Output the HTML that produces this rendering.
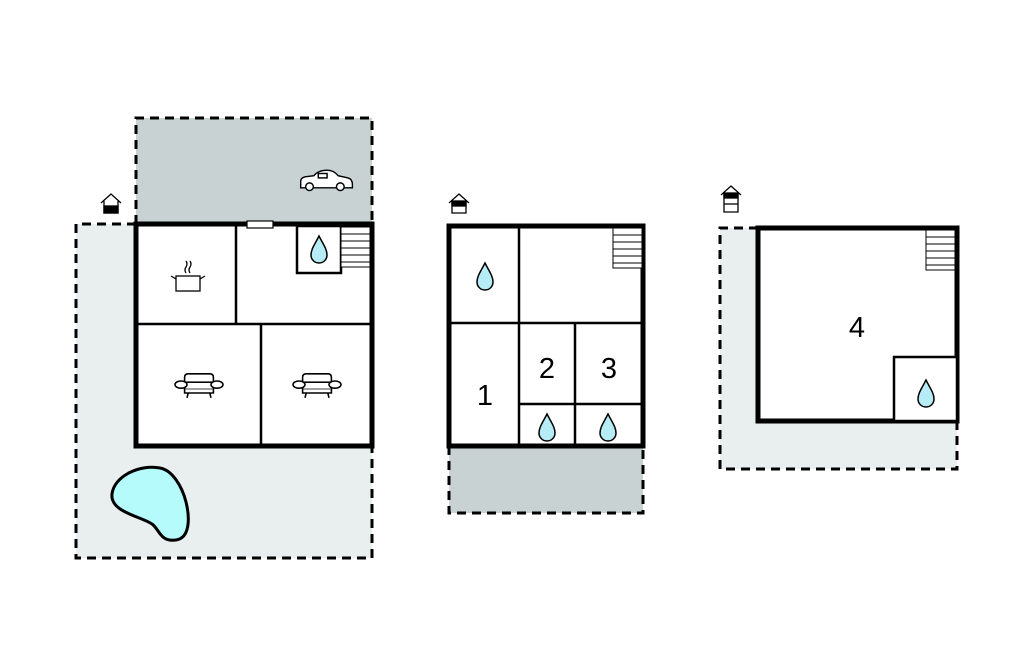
<!DOCTYPE html>
<html><head><style>body{margin:0;background:#fff}svg{display:block}</style></head><body>
<svg width="1024" height="652" viewBox="0 0 1024 652" xmlns="http://www.w3.org/2000/svg" font-family="Liberation Sans, sans-serif">
<defs>
<g id="drop"><path d="M0,-14 C-4,-6 -8,-1 -8,5 C-8,10 -4,13 0,13 C4,13 8,10 8,5 C8,-1 4,-6 0,-14Z" fill="#b5ecf5" stroke="#000" stroke-width="1.5"/></g>
<g id="sofa" fill="#fff" stroke="#000" stroke-width="1.3"><path d="M-12,-4 v-4 q0,-3 3,-3 h18 q3,0 3,3 v4"/><rect x="-12" y="-4" width="24" height="6"/><path d="M-12,2 v3 h24 v-3"/><ellipse cx="-15" cy="-2" rx="5" ry="3"/><ellipse cx="15" cy="-2" rx="5" ry="3"/><path d="M-9,5 l-1,4 M9,5 l1,4"/></g>
<g id="stairs" stroke="#000" stroke-width="1" fill="#fff"><rect x="0" y="0" width="29" height="40"/><path d="M0,7h29M0,14h29M0,21h29M0,28h29M0,35h29"/></g>
</defs>
<!-- Plan 1 -->
<rect x="136" y="118" width="236" height="106" fill="#c8d2d3"/>
<path d="M136,224 V118 H372 V224" fill="none" stroke="#000" stroke-width="3" stroke-dasharray="9,6"/>
<rect x="76" y="224" width="296" height="334" fill="#e9eeee"/>
<path d="M136,224 H76 V558 H372 V446" fill="none" stroke="#000" stroke-width="3" stroke-dasharray="9,6"/>
<rect x="136" y="224" width="236" height="222" fill="#fff" stroke="#000" stroke-width="5"/>
<path d="M136,324 H372 M236,224 V324 M261,324 V446" stroke="#000" stroke-width="2.5"/>
<rect x="297" y="226" width="44" height="47" fill="#fff" stroke="#000" stroke-width="2.5"/>
<use href="#drop" x="319" y="250"/>
<use href="#stairs" x="341" y="227"/>
<rect x="247" y="221" width="26" height="7" fill="#fff" stroke="#000" stroke-width="1.2"/>
<g stroke="#000" stroke-width="1.3" fill="none"><rect x="176" y="276" width="24" height="15" fill="#fff"/><path d="M176,279 l-5,-3 M200,279 l5,-3 M186,273 q-2,-3 0,-6 q2,-3 0,-6 M190,273 q-2,-3 0,-6 q2,-3 0,-6"/></g>
<use href="#sofa" transform="translate(199,387) scale(1.2)"/>
<use href="#sofa" transform="translate(317,387) scale(1.2)"/>
<g transform="translate(326,179) scale(1.1) translate(-326,-179)" stroke="#000" stroke-width="1.3" fill="#fff"><path d="M303,187 v-6 q0,-3 4,-4 l8,-1 q4,-5 12,-5 q6,0 10,5 l9,2 q4,1 4,6 v3 z"/><rect x="319" y="174" width="8" height="4"/><circle cx="311" cy="186" r="3.5"/><circle cx="339" cy="186" r="3.5"/></g>
<path d="M160,468 C140,464 114,476 112,494 C110,512 140,516 152,524 C160,530 160,542 176,540 C190,538 190,518 186,502 C182,486 172,470 160,468Z" fill="#b5fbfb" stroke="#000" stroke-width="3"/>
<!-- house icons -->
<g stroke="#000" stroke-width="1.3" fill="#fff">
<path d="M101,203 l10,-9 l10,9 M104,201 v12 h14 v-12"/><rect x="104" y="206" width="14" height="7" fill="#000"/>
<path d="M449,203 l10,-9 l10,9 M452,201 v12 h14 v-12"/><rect x="452" y="201" width="14" height="5" fill="#000"/>
<path d="M721,195 l10,-9 l10,9 M724,193 v19 h14 v-19"/><rect x="724" y="193" width="14" height="5" fill="#000"/><path d="M724,204 h14"/>
</g>
<!-- Plan 2 -->
<rect x="449" y="446" width="194" height="67" fill="#c8d2d3"/>
<path d="M449,446 V513 H643 V446" fill="none" stroke="#000" stroke-width="3" stroke-dasharray="9,6"/>
<rect x="449" y="226" width="194" height="220" fill="#fff" stroke="#000" stroke-width="5"/>
<path d="M519,226 V446 M449,323 H643 M575,323 V446 M519,404 H643" stroke="#000" stroke-width="2.5"/>
<use href="#stairs" x="613" y="228"/>
<use href="#drop" x="485" y="277"/>
<use href="#drop" x="547" y="428"/>
<use href="#drop" x="608" y="428"/>
<text x="485" y="405" font-size="29" text-anchor="middle">1</text>
<text x="547" y="378" font-size="29" text-anchor="middle">2</text>
<text x="609" y="378" font-size="29" text-anchor="middle">3</text>
<!-- Plan 3 -->
<rect x="720" y="228" width="237" height="241" fill="#e9eeee"/>
<path d="M758,228 H720 V469 H957 V421" fill="none" stroke="#000" stroke-width="3" stroke-dasharray="9,6"/>
<rect x="758" y="228" width="199" height="193" fill="#fff" stroke="#000" stroke-width="5"/>
<rect x="894" y="357" width="63" height="64" fill="#fff" stroke="#000" stroke-width="2.5"/>
<use href="#stairs" x="926" y="230"/>
<use href="#drop" x="926" y="394"/>
<text x="857" y="337" font-size="29" text-anchor="middle">4</text>
</svg>
</body></html>
